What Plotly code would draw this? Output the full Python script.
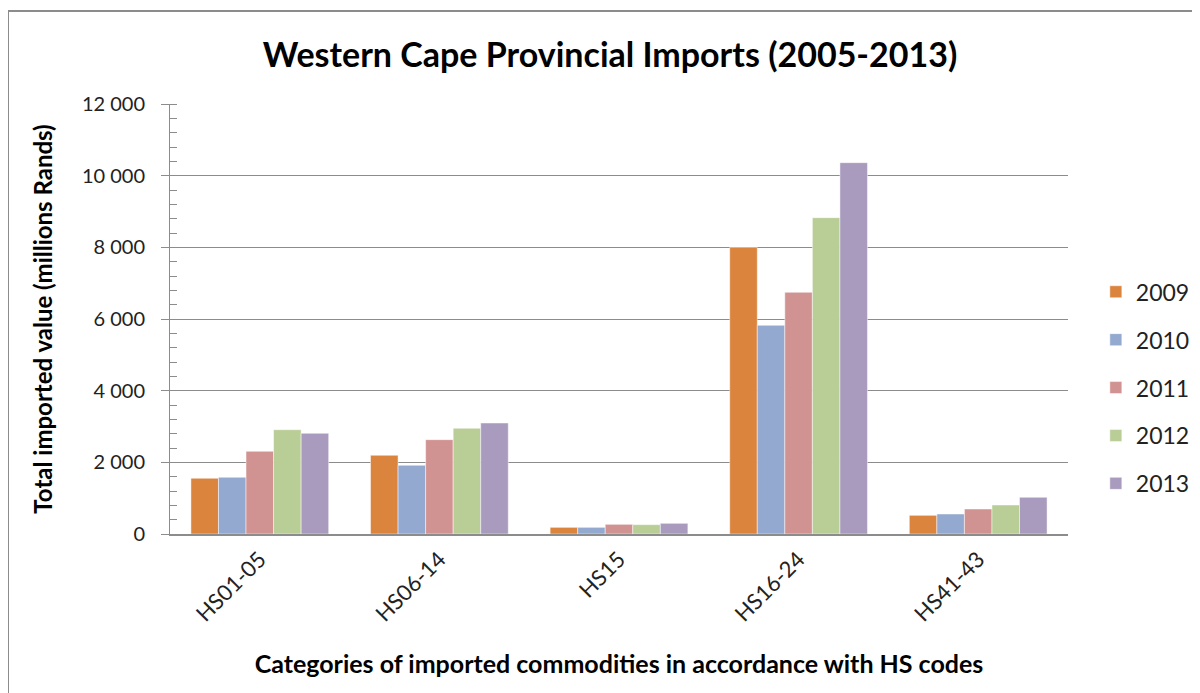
import plotly.graph_objects as go

categories = ["HS01-05", "HS06-14", "HS15", "HS16-24", "HS41-43"]
years = ["2009", "2010", "2011", "2012", "2013"]

v2009 = [1555, 2196, 186, 8000, 521]
v2010 = [1582, 1917, 186, 5824, 558]
v2011 = [2308, 2633, 270, 6745, 698]
v2012 = [2911, 2950, 261, 8828, 809]
v2013 = [2810, 3098, 298, 10363, 1024]

series = [v2009, v2010, v2011, v2012, v2013]
colors = ["#DB843D", "#93A9CF", "#D19392", "#B9CD96", "#A99BBD"]

FONT = "Lato"

fig = go.Figure()
for yr, vals, col in zip(years, series, colors):
    fig.add_trace(go.Bar(x=categories, y=vals, name=yr, legendgroup=yr,
                         marker=dict(color=col, line=dict(color="rgba(255,255,255,0.6)", width=0.8))))

fig.update_layout(
    width=1200, height=693,
    margin=dict(l=162, r=140, t=96, b=167, autoexpand=False),
    paper_bgcolor="white", plot_bgcolor="white",
    font=dict(family=FONT, color="#222"),
    separators=". ",
    barmode="group", bargap=0.233, bargroupgap=0,
    title=dict(text="<b>Western Cape Provincial Imports (2005-2013)</b>",
               x=0.49, xref="paper", xanchor="center", y=0.932, yanchor="middle",
               font=dict(size=34, family=FONT, color="black")),
    legend=dict(x=1.031, xanchor="left", y=0.34, yanchor="middle",
                font=dict(size=23, family=FONT, color="#222"), tracegroupgap=15,
                itemwidth=30, bgcolor="rgba(0,0,0,0)"),
    showlegend=True,
)

fig.update_yaxes(range=[0, 12000], dtick=2000, tickformat=",d", automargin=False,
                 showgrid=True, gridcolor="#8c8c8c", gridwidth=1,
                 showline=True, linecolor="#8c8c8c", linewidth=1,
                 ticks="outside", ticklen=8, tickcolor="#8c8c8c",
                 minor=dict(ticks="inside", ticklen=7, dtick=400, tickcolor="#8c8c8c", showgrid=False),
                 tickfont=dict(size=20, family=FONT, color="#222"), ticklabelstandoff=12,
                 title=dict(text="<b>Total imported value (millions Rands)</b>",
                            font=dict(size=24, family=FONT, color="black"), standoff=22),
                 zeroline=False)
fig.update_xaxes(showline=True, linecolor="#8c8c8c", linewidth=1.5, automargin=False,
                 ticks="", tickangle=-45, ticklabelstandoff=2,
                 tickfont=dict(size=22, family=FONT, color="#222"),
                 title=dict(text="<b>Categories of imported commodities in accordance with HS codes</b>",
                            font=dict(size=25, family=FONT, color="black"), standoff=30))

# outer chart frame
fig.add_shape(type="rect", xref="paper", yref="paper",
              x0=(0 - 162) / 898, x1=1.3, y0=-0.6, y1=(526 - 3) / 430,
              line=dict(color="#8c8c8c", width=2), fillcolor="rgba(0,0,0,0)", layer="above")

fig.write_html("out.html")
